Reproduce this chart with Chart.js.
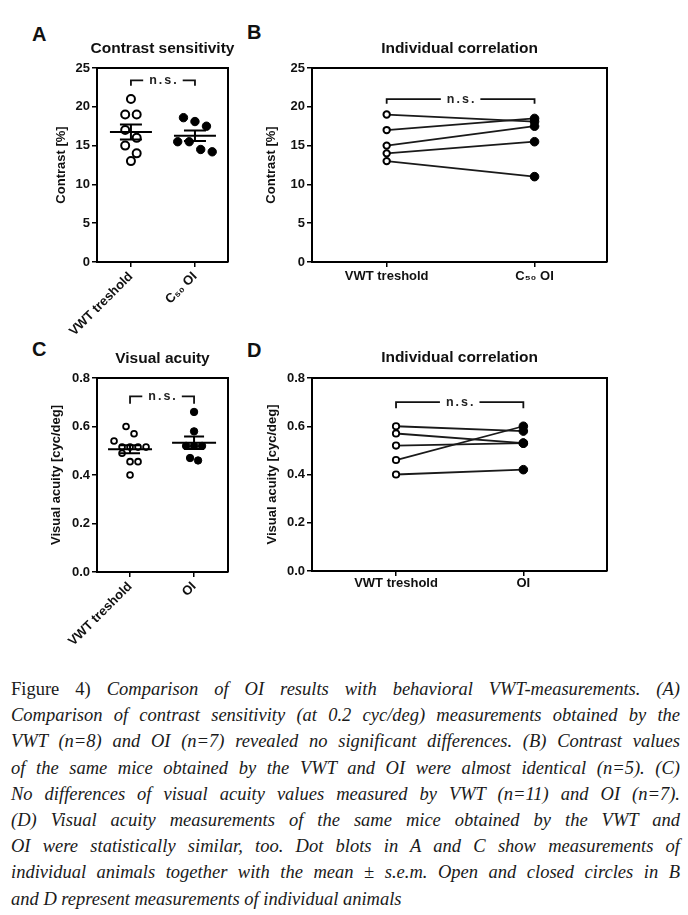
<!DOCTYPE html>
<html>
<head>
<meta charset="utf-8">
<script src="https://cdn.jsdelivr.net/npm/chart.js@4.4.1/dist/chart.umd.min.js"></script>
<style>
  body { margin: 0; background: #fff; width: 688px; height: 915px; position: relative; overflow: hidden; }
  canvas { position: absolute; }
  .lbl { position: absolute; font-family: "Liberation Sans", Arial, sans-serif; font-weight: bold; font-size: 20px; line-height: 20px; color: #111; }
  #caption { position: absolute; left: 11px; top: 676px; width: 669px; font-family: "Liberation Serif", "DejaVu Serif", serif; font-style: italic; font-size: 18.5px; line-height: 26.2px; color: #1a1a1a; }
  #caption div { text-align: justify; text-align-last: justify; }
  #caption div.last { text-align-last: left; }
  #caption .up { font-style: normal; }
</style>
</head>
<body>
<div class="lbl" style="left:32px;top:24px">A</div>
<div class="lbl" style="left:247px;top:22px">B</div>
<div class="lbl" style="left:32px;top:339px">C</div>
<div class="lbl" style="left:247px;top:340px">D</div>

<canvas id="chartA" width="325" height="340" style="left:0;top:0"></canvas>
<canvas id="chartB" width="443" height="340" style="left:245px;top:0"></canvas>
<canvas id="chartC" width="325" height="330" style="left:0;top:330px"></canvas>
<canvas id="chartD" width="443" height="330" style="left:245px;top:330px"></canvas>

<div id="caption">
  <div><span class="up">Figure 4)</span> Comparison of OI results with behavioral VWT-measurements. (A)</div>
  <div>Comparison of contrast sensitivity (at 0.2 cyc/deg) measurements obtained by the</div>
  <div>VWT (n=8) and OI (n=7) revealed no significant differences. (B) Contrast values</div>
  <div>of the same mice obtained by the VWT and OI were almost identical (n=5). (C)</div>
  <div>No differences of visual acuity values measured by VWT (n=11) and OI (n=7).</div>
  <div>(D) Visual acuity measurements of the same mice obtained by the VWT and</div>
  <div>OI were statistically similar, too. Dot blots in A and C show measurements of</div>
  <div>individual animals together with the mean ± s.e.m. Open and closed circles in B</div>
  <div class="last">and D represent measurements of individual animals</div>
</div>

<script>
// categories
const catsContrast = ["VWT treshold", "C₅₀ OI"];
const catsAcuity = ["VWT treshold", "OI"];

// y ticks
const contrastTicks = [0, 5, 10, 15, 20, 25];
const acuityTicks = [0, 0.2, 0.4, 0.6, 0.8];

// A - contrast, all animals
const contrastVWT = [21, 19, 19, 17, 16, 15, 14, 13];
const contrastOI = [18.6, 18.1, 17.5, 15.5, 15.5, 14.5, 14.2];

// B - contrast, same animals (paired by index)
const pairContrastVWT = [19, 17, 15, 14, 13];
const pairContrastOI = [18.1, 18.5, 17.5, 15.5, 11];

// C - visual acuity, all animals
const acuityVWT = [0.60, 0.57, 0.54, 0.515, 0.515, 0.515, 0.515, 0.49, 0.455, 0.455, 0.40];
const acuityOI = [0.66, 0.58, 0.52, 0.52, 0.52, 0.47, 0.46];

// D - visual acuity, same animals
const pairAcuityVWT = [0.60, 0.57, 0.52, 0.46, 0.40];
const pairAcuityOI = [0.58, 0.53, 0.53, 0.60, 0.42];

const FONT = "'Liberation Sans', Arial, sans-serif";
const INK = "#111";

function meanSem(vals) {
    const n = vals.length;
    const m = vals.reduce((s, v) => s + v, 0) / n;
    const sd = Math.sqrt(vals.reduce((s, v) => s + (v - m) ** 2, 0) / (n - 1));
    return { m, sem: sd / Math.sqrt(n) };
}

// frame on top and right of the plot
const boxPlugin = {
    id: "box",
    beforeDatasetsDraw(chart) {
        const { ctx, chartArea: a } = chart;
        ctx.save();
        ctx.strokeStyle = "#000";
        ctx.lineWidth = 2;
        ctx.beginPath();
        ctx.moveTo(a.left, a.top);
        ctx.lineTo(a.right, a.top);
        ctx.lineTo(a.right, a.bottom);
        ctx.stroke();
        ctx.restore();
    }
};

// "n.s." bracket between the two groups
const bracketPlugin = {
    id: "bracket",
    afterDatasetsDraw(chart, args, opt) {
        const { ctx, scales: { x, y } } = chart;
        const x0 = x.getPixelForValue(0), x1 = x.getPixelForValue(1);
        const yt = y.getPixelForValue(opt.top), yb = y.getPixelForValue(opt.foot);
        const xm = (x0 + x1) / 2;
        ctx.save();
        ctx.font = "bold 12.5px " + FONT;
        ctx.letterSpacing = "2px";
        const w = ctx.measureText(opt.text).width;
        ctx.strokeStyle = INK;
        ctx.lineWidth = 1.8;
        ctx.beginPath();
        ctx.moveTo(x0, yb); ctx.lineTo(x0, yt); ctx.lineTo(xm - w / 2 - 5, yt);
        ctx.moveTo(xm + w / 2 + 5, yt); ctx.lineTo(x1, yt); ctx.lineTo(x1, yb);
        ctx.stroke();
        ctx.fillStyle = "#222";
        ctx.textAlign = "center";
        ctx.textBaseline = "alphabetic";
        ctx.fillText(opt.text, xm + 1, yt + 3.5);
        ctx.restore();
    }
};

// mean line with s.e.m. whiskers, from the dataset values
const meanPlugin = {
    id: "meanSem",
    afterDatasetsDraw(chart, args, opt) {
        const { ctx, scales: { x, y } } = chart;
        ctx.save();
        ctx.strokeStyle = "#000";
        ctx.lineWidth = 2;
        chart.data.datasets.forEach((ds, i) => {
            const { m, sem } = meanSem(ds.data.map(p => p.y));
            const cx = x.getPixelForValue(i);
            const ym = y.getPixelForValue(m);
            const yh = y.getPixelForValue(m + sem), yl = y.getPixelForValue(m - sem);
            ctx.beginPath();
            ctx.moveTo(cx - opt.half, ym); ctx.lineTo(cx + opt.half, ym);
            ctx.moveTo(cx, yh); ctx.lineTo(cx, yl);
            ctx.moveTo(cx - opt.cap, yh); ctx.lineTo(cx + opt.cap, yh);
            ctx.moveTo(cx - opt.cap, yl); ctx.lineTo(cx + opt.cap, yl);
            ctx.stroke();
        });
        ctx.restore();
    }
};

// spread points with close values sideways (rows, symmetric)
function swarm(chart, spacing) {
    const xs = chart.scales.x, ys = chart.scales.y;
    const pxPerUnit = xs.getPixelForValue(1) - xs.getPixelForValue(0);
    chart.data.datasets.forEach((ds, cat) => {
        const order = ds.data.map((p, i) => i).sort((a, b) => ds.data[b].y - ds.data[a].y);
        const rows = [];
        let cur = null;
        order.forEach(i => {
            const py = ys.getPixelForValue(ds.data[i].y);
            if (cur && py - cur.top < spacing * 1.1) cur.items.push(i);
            else { cur = { top: py, items: [i] }; rows.push(cur); }
        });
        rows.forEach(row => row.items.forEach((i, k) => {
            const off = (k - (row.items.length - 1) / 2) * spacing;
            ds.data[i].x = cat + off / pxPerUnit;
        }));
    });
    chart.update("none");
}

function panel(id, o) {
    const tickFont = { family: FONT, size: 13, weight: "bold" };
    const scales = {
        x: {
            type: "linear", min: o.xMin, max: o.xMax,
            afterBuildTicks: s => { s.ticks = o.cats.map((c, i) => ({ value: i })); },
            afterFit: s => { s.height = o.xHeight; },
            ticks: {
                callback: v => o.cats[v], color: INK, font: tickFont,
                padding: o.xPad, minRotation: o.rot, maxRotation: o.rot, autoSkip: false
            },
            grid: { drawOnChartArea: false, tickLength: 5, color: "#000", lineWidth: 1.5 },
            border: { color: "#000", width: 2 }
        },
        y: {
            min: o.yTicks[0], max: o.yTicks[o.yTicks.length - 1],
            afterBuildTicks: s => { s.ticks = o.yTicks.map(v => ({ value: v })); },
            afterFit: s => { s.width = o.yWidth; },
            ticks: { callback: o.yFmt, color: INK, font: tickFont, padding: 2 },
            title: {
                display: true, text: o.yTitle, color: INK,
                font: { family: FONT, size: 13, weight: "bold" },
                padding: { top: o.yTitlePad, bottom: 0 }
            },
            grid: { drawOnChartArea: false, tickLength: 5, color: "#000", lineWidth: 1.5 },
            border: { color: "#000", width: 2 }
        }
    };
    if (o.rightSpace) {
        // empty right-hand axis only reserves room, so the title stays centred on the plot
        scales.spacer = {
            position: "right", display: true,
            afterFit: s => { s.width = o.rightSpace; },
            ticks: { display: false }, grid: { display: false }, border: { display: false }
        };
    }
    return new Chart(document.getElementById(id), {
        type: "scatter",
        data: { datasets: o.datasets },
        options: {
            responsive: false,
            animation: false,
            devicePixelRatio: 1,
            layout: { padding: { left: 0, right: o.padRight, top: 0, bottom: 0 } },
            plugins: {
                legend: { display: false },
                tooltip: { enabled: false },
                title: {
                    display: true, text: o.title, fullSize: o.titleFull, color: INK,
                    font: { family: FONT, size: 15.5, weight: "bold" },
                    padding: { top: o.titleTop, bottom: o.titleBottom }
                },
                bracket: o.bracket,
                meanSem: o.meanSem || false
            },
            scales
        },
        plugins: [boxPlugin, bracketPlugin, meanPlugin]
    });
}

function groupSets(vwt, oi, rOpen, rFill, bwOpen) {
    return [
        { data: vwt.map(v => ({ x: 0, y: v })), pointRadius: rOpen, borderWidth: bwOpen,
          pointBackgroundColor: "#fff", pointBorderColor: "#000", pointBorderWidth: bwOpen },
        { data: oi.map(v => ({ x: 1, y: v })), pointRadius: rFill, pointBorderWidth: 1,
          pointBackgroundColor: "#000", pointBorderColor: "#000" }
    ];
}

function pairSets(vwt, oi, rOpen, rFill, bwOpen) {
    return vwt.map((v, i) => ({
        data: [{ x: 0, y: v }, { x: 1, y: oi[i] }],
        showLine: true, borderColor: "#1a1a1a", borderWidth: 1.8,
        pointRadius: [rOpen, rFill],
        pointBackgroundColor: ["#fff", "#000"],
        pointBorderColor: "#000",
        pointBorderWidth: [bwOpen, 1]
    }));
}

const fmtInt = v => String(v);
const fmtOne = v => v.toFixed(1);

const chartA = panel("chartA", {
    title: "Contrast sensitivity", titleFull: true, titleTop: 39.7, titleBottom: 9.7,
    cats: catsContrast, xMin: -0.53, xMax: 1.516, xHeight: 78, xPad: 2, rot: 45,
    yTicks: contrastTicks, yFmt: fmtInt, yWidth: 97, yTitle: "Contrast [%]", yTitlePad: 54,
    padRight: 0, rightSpace: 97,
    bracket: { top: 23.4, foot: 22.7, text: "n.s." },
    meanSem: { half: 21, cap: 11 },
    datasets: groupSets(contrastVWT, contrastOI, 4, 4.2, 2)
});
swarm(chartA, 11.5);

panel("chartB", {
    title: "Individual correlation", titleFull: false, titleTop: 39.8, titleBottom: 9.6,
    cats: catsContrast, xMin: -0.505, xMax: 1.49, xHeight: 78, xPad: 2, rot: 0,
    yTicks: contrastTicks, yFmt: fmtInt, yWidth: 67, yTitle: "Contrast [%]", yTitlePad: 19,
    padRight: 81,
    bracket: { top: 21.0, foot: 20.4, text: "n.s." },
    datasets: pairSets(pairContrastVWT, pairContrastOI, 3.2, 4.3, 2)
});

const chartC = panel("chartC", {
    title: "Visual acuity", titleFull: true, titleTop: 19.7, titleBottom: 9.7,
    cats: catsAcuity, xMin: -0.516, xMax: 1.53, xHeight: 88, xPad: 2, rot: 45,
    yTicks: acuityTicks, yFmt: fmtOne, yWidth: 97, yTitle: "Visual acuity [cyc/deg]", yTitlePad: 49,
    padRight: 0, rightSpace: 97,
    bracket: { top: 0.724, foot: 0.694, text: "n.s." },
    meanSem: { half: 22, cap: 10 },
    datasets: groupSets(acuityVWT, acuityOI, 2.9, 3.7, 1.8)
});
swarm(chartC, 8);

panel("chartD", {
    title: "Individual correlation", titleFull: false, titleTop: 18.2, titleBottom: 11.2,
    cats: catsAcuity, xMin: -0.66, xMax: 1.657, xHeight: 89, xPad: 0, rot: 0,
    yTicks: acuityTicks, yFmt: fmtOne, yWidth: 67, yTitle: "Visual acuity [cyc/deg]", yTitlePad: 20,
    padRight: 81,
    bracket: { top: 0.70, foot: 0.675, text: "n.s." },
    datasets: pairSets(pairAcuityVWT, pairAcuityOI, 3.2, 4.3, 1.8)
});
</script>
</body>
</html>
